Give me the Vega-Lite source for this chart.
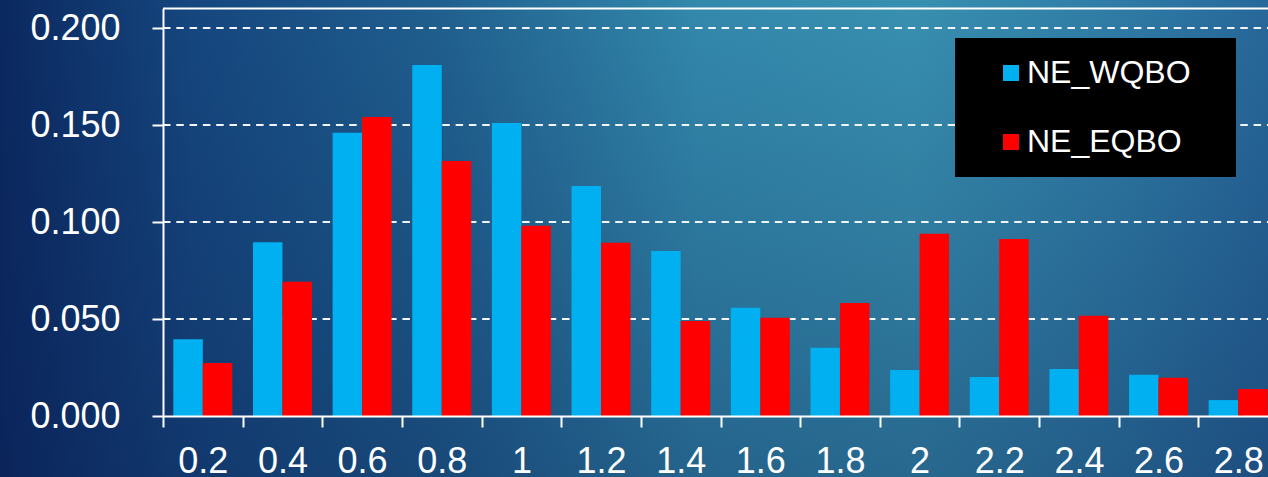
{
  "$schema": "https://vega.github.io/schema/vega-lite/v6.json",
  "width": 1268,
  "height": 477,
  "autosize": "none",
  "padding": 0,
  "background": "#1a4c80",
  "config": {
    "view": {"stroke": null},
    "axis": {"labelFont": "Liberation Sans", "labelColor": "white", "labelFontSize": 36, "domainColor": "white", "domainWidth": 2, "tickColor": "white", "tickWidth": 2, "tickSize": 11, "grid": false, "title": null}
  },
  "data": {
    "values": [
      {"x": 0.2, "series": "NE_WQBO", "value": 0.0395},
      {"x": 0.2, "series": "NE_EQBO", "value": 0.0273},
      {"x": 0.4, "series": "NE_WQBO", "value": 0.0895},
      {"x": 0.4, "series": "NE_EQBO", "value": 0.0692},
      {"x": 0.6, "series": "NE_WQBO", "value": 0.146},
      {"x": 0.6, "series": "NE_EQBO", "value": 0.1541},
      {"x": 0.8, "series": "NE_WQBO", "value": 0.1809},
      {"x": 0.8, "series": "NE_EQBO", "value": 0.1314},
      {"x": 1.0, "series": "NE_WQBO", "value": 0.151},
      {"x": 1.0, "series": "NE_EQBO", "value": 0.0981},
      {"x": 1.2, "series": "NE_WQBO", "value": 0.1186},
      {"x": 1.2, "series": "NE_EQBO", "value": 0.0893},
      {"x": 1.4, "series": "NE_WQBO", "value": 0.0851},
      {"x": 1.4, "series": "NE_EQBO", "value": 0.049},
      {"x": 1.6, "series": "NE_WQBO", "value": 0.0558},
      {"x": 1.6, "series": "NE_EQBO", "value": 0.0507},
      {"x": 1.8, "series": "NE_WQBO", "value": 0.0352},
      {"x": 1.8, "series": "NE_EQBO", "value": 0.0582},
      {"x": 2.0, "series": "NE_WQBO", "value": 0.0237},
      {"x": 2.0, "series": "NE_EQBO", "value": 0.094},
      {"x": 2.2, "series": "NE_WQBO", "value": 0.0201},
      {"x": 2.2, "series": "NE_EQBO", "value": 0.0912},
      {"x": 2.4, "series": "NE_WQBO", "value": 0.0242},
      {"x": 2.4, "series": "NE_EQBO", "value": 0.0517},
      {"x": 2.6, "series": "NE_WQBO", "value": 0.0213},
      {"x": 2.6, "series": "NE_EQBO", "value": 0.0197},
      {"x": 2.8, "series": "NE_WQBO", "value": 0.0082},
      {"x": 2.8, "series": "NE_EQBO", "value": 0.0139}
    ]
  },
  "resolve": {"scale": {"x": "independent"}, "axis": {"x": "independent"}},
  "layer": [
    {
      "data": {"values": [{}]},
      "mark": {"type": "rect", "fill": {"gradient": "linear", "x1": 0, "y1": 0, "x2": 1, "y2": 0, "stops": [
        {"offset": 0, "color": "#0b2860"},
        {"offset": 0.15, "color": "#15467e"},
        {"offset": 0.35, "color": "#20608f"},
        {"offset": 0.55, "color": "#3389ac"},
        {"offset": 0.72, "color": "#3890b0"},
        {"offset": 0.88, "color": "#2f7ca6"},
        {"offset": 1, "color": "#27689a"}
      ]}},
      "encoding": {}
    },
    {
      "data": {"values": [{}]},
      "mark": {"type": "rect", "fill": {"gradient": "linear", "x1": 0, "y1": 0, "x2": 0, "y2": 1, "stops": [
        {"offset": 0, "color": "rgba(10,30,80,0)"},
        {"offset": 1, "color": "rgba(10,30,80,0.35)"}
      ]}},
      "encoding": {}
    },
    {
      "data": {"values": [{"g": 0.05}, {"g": 0.1}, {"g": 0.15}, {"g": 0.2}]},
      "mark": {"type": "rule", "color": "#f2f5f8", "strokeWidth": 2, "strokeDash": [7.5, 5.8]},
      "encoding": {
        "y": {"field": "g", "type": "quantitative"},
        "x": {"datum": 0.1, "type": "quantitative", "scale": {"domain": [0.1, 2.9], "range": [163, 1278]}, "axis": null},
        "x2": {"datum": 2.9}
      }
    },
    {
      "data": {"values": [{"g": 0.21}]},
      "mark": {"type": "rule", "color": "white", "strokeWidth": 2},
      "encoding": {
        "y": {"field": "g", "type": "quantitative"},
        "x": {"datum": 0.1, "type": "quantitative", "scale": {"domain": [0.1, 2.9], "range": [163, 1278]}, "axis": null},
        "x2": {"datum": 2.9}
      }
    },
    {
      "mark": {"type": "bar"},
      "encoding": {
        "x": {"field": "x", "type": "ordinal", "sort": null,
          "scale": {"range": [163, 1278], "paddingInner": 0, "paddingOuter": 0},
          "axis": {"orient": "bottom", "zindex": 1, "offset": -61, "tickBand": "extent", "labelAngle": 0, "labelPadding": 17, "labelBound": false}},
        "xOffset": {"field": "series", "type": "nominal", "scale": {"domain": ["NE_WQBO", "NE_EQBO"], "paddingInner": 0, "paddingOuter": 0.35}},
        "y": {"field": "value", "type": "quantitative",
          "scale": {"domain": [0, 0.21], "range": [416, 8.6], "nice": false, "zero": true},
          "axis": {"orient": "left", "zindex": 1, "offset": -163, "values": [0, 0.05, 0.1, 0.15, 0.2], "format": ".3f", "labelPadding": 32}},
        "color": {"field": "series", "type": "nominal",
          "scale": {"domain": ["NE_WQBO", "NE_EQBO"], "range": ["#00B0F0", "#FF0000"]},
          "legend": {"title": " ", "titleOrient": "right", "titleFontSize": 2, "titlePadding": 26, "orient": "none", "legendX": 955, "legendY": 38, "fillColor": "black", "padding": 19,
            "symbolType": "square", "symbolSize": 256, "symbolStrokeWidth": 0, "symbolOpacity": 1,
            "labelFont": "Liberation Sans", "labelFontSize": 32, "labelColor": "white", "labelLimit": 400,
            "rowPadding": 37, "labelOffset": 0, "symbolOffset": 21}}
      }
    }
  ]
}
